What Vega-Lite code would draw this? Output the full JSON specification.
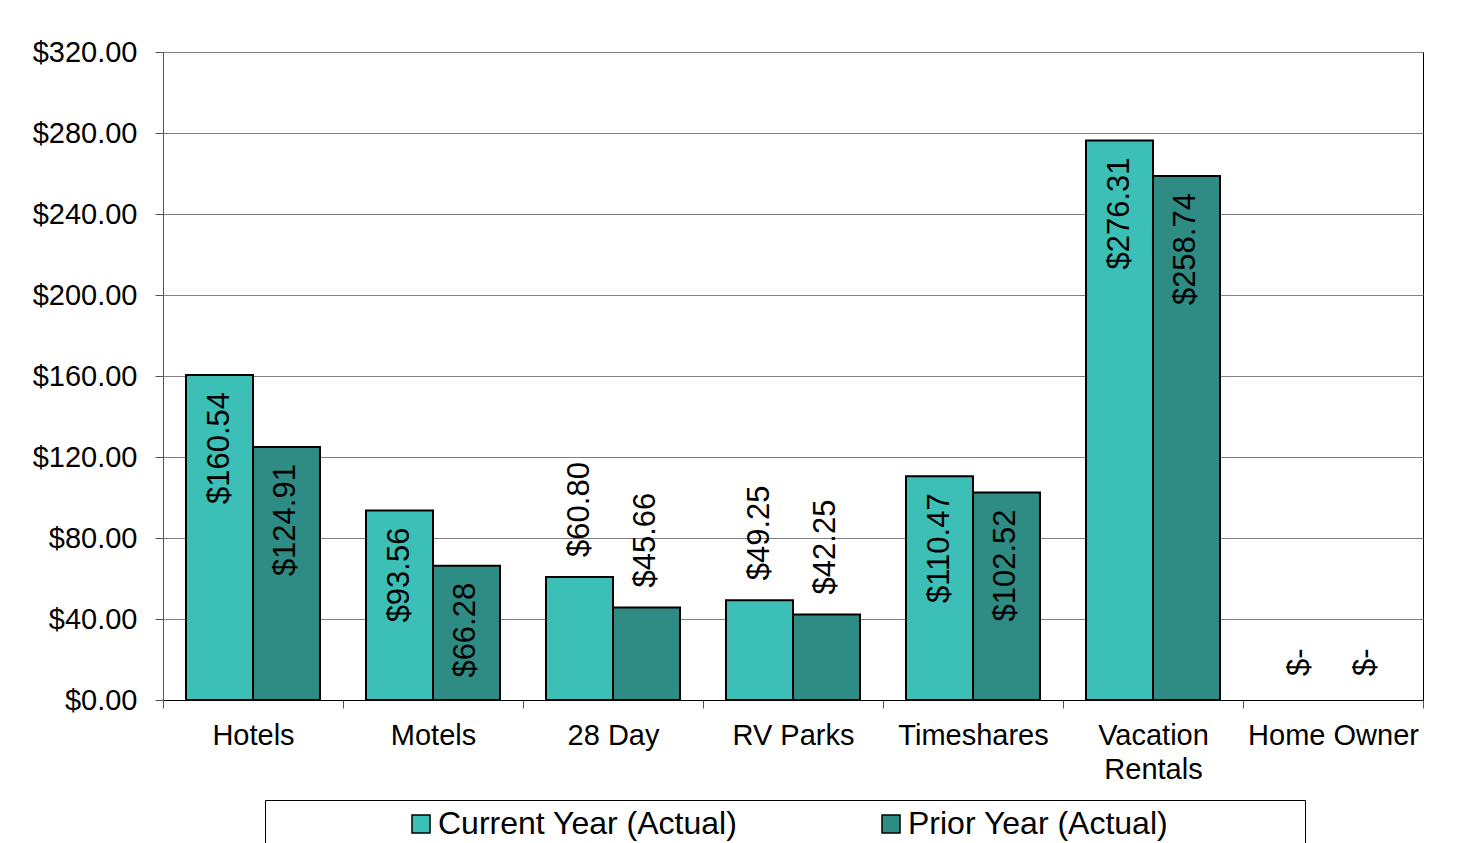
{
  "$schema": "https://vega.github.io/schema/vega-lite/v6.json",
  "width": 1260,
  "height": 648,
  "autosize": {"type": "none"},
  "padding": {"left": 163, "top": 52, "right": 35, "bottom": 143},
  "config": {
    "view": {"stroke": "#000", "strokeWidth": 1},
    "font": "Liberation Sans"
  },
  "data": {
    "values": [
      {"category": "Hotels", "series": "Current Year (Actual)", "value": 160.54},
      {"category": "Hotels", "series": "Prior Year (Actual)", "value": 124.91},
      {"category": "Motels", "series": "Current Year (Actual)", "value": 93.56},
      {"category": "Motels", "series": "Prior Year (Actual)", "value": 66.28},
      {"category": "28 Day", "series": "Current Year (Actual)", "value": 60.80},
      {"category": "28 Day", "series": "Prior Year (Actual)", "value": 45.66},
      {"category": "RV Parks", "series": "Current Year (Actual)", "value": 49.25},
      {"category": "RV Parks", "series": "Prior Year (Actual)", "value": 42.25},
      {"category": "Timeshares", "series": "Current Year (Actual)", "value": 110.47},
      {"category": "Timeshares", "series": "Prior Year (Actual)", "value": 102.52},
      {"category": "Vacation Rentals", "series": "Current Year (Actual)", "value": 276.31},
      {"category": "Vacation Rentals", "series": "Prior Year (Actual)", "value": 258.74},
      {"category": "Home Owner", "series": "Current Year (Actual)", "value": 0},
      {"category": "Home Owner", "series": "Prior Year (Actual)", "value": 0}
    ]
  },
  "encoding": {
    "x": {
      "field": "category",
      "type": "nominal",
      "sort": null,
      "scale": {"paddingInner": 0, "paddingOuter": 0},
      "axis": {
        "title": null,
        "labelAngle": 0,
        "tickBand": "extent",
        "tickSize": 8,
        "tickColor": "#555",
        "domainColor": "#000",
        "labelFontSize": 29,
        "labelColor": "#000",
        "labelPadding": 13,
        "labelLimit": 400,
        "labelLineHeight": 34,
        "labelExpr": "datum.label == 'Vacation Rentals' ? ['Vacation', 'Rentals'] : datum.label",
        "grid": false
      }
    },
    "xOffset": {
      "field": "series",
      "type": "nominal",
      "sort": null,
      "scale": {"paddingInner": 0, "paddingOuter": 0.3433}
    },
    "y": {
      "field": "value",
      "type": "quantitative",
      "scale": {"domain": [0, 320], "nice": false},
      "axis": {
        "title": null,
        "values": [0, 40, 80, 120, 160, 200, 240, 280, 320],
        "format": "$,.2f",
        "grid": true,
        "gridColor": "#808080",
        "gridWidth": 1,
        "domainColor": "#555",
        "tickColor": "#555",
        "tickSize": 8,
        "labelFontSize": 29,
        "labelColor": "#000",
        "labelPadding": 18
      }
    }
  },
  "layer": [
    {
      "transform": [{"filter": "datum.value > 0"}],
      "mark": {"type": "bar", "stroke": "#000", "strokeWidth": 2},
      "encoding": {
        "color": {
          "field": "series",
          "type": "nominal",
          "sort": null,
          "scale": {
            "domain": ["Current Year (Actual)", "Prior Year (Actual)"],
            "range": ["#3CBFB6", "#2E8C85"]
          },
          "legend": {
            "orient": "none",
            "legendX": 102,
            "legendY": 748,
            "direction": "horizontal",
            "title": " ",
            "titleOrient": "left",
            "titleFontSize": 1,
            "titlePadding": 132,
            "padding": 8,
            "strokeColor": "#000",
            "fillColor": "#fff",
            "symbolType": "square",
            "symbolSize": 324,
            "symbolStrokeColor": "#000",
            "symbolStrokeWidth": 1.5,
            "symbolOpacity": 1,
            "labelFontSize": 32,
            "labelColor": "#000",
            "labelOffset": 1,
            "labelLimit": 1000,
            "columnPadding": 137,
            "labelExpr": "datum.label == 'Prior Year (Actual)' ? datum.label + '\u2009\u2009\u2800\u2800\u2800\u2800\u2800' : datum.label"
          }
        }
      }
    },
    {
      "transform": [{"filter": "datum.value > 62"}],
      "mark": {"type": "text", "angle": 270, "align": "right", "baseline": "middle", "dx": -17, "fontSize": 31, "color": "#000"},
      "encoding": {"text": {"field": "value", "type": "quantitative", "format": "$,.2f"}}
    },
    {
      "transform": [{"filter": "datum.value > 0 && datum.value <= 62"}],
      "mark": {"type": "text", "angle": 270, "align": "left", "baseline": "middle", "dx": 20, "fontSize": 31, "color": "#000"},
      "encoding": {"text": {"field": "value", "type": "quantitative", "format": "$,.2f"}}
    },
    {
      "transform": [{"filter": "datum.value == 0"}],
      "mark": {"type": "text", "angle": 270, "align": "left", "baseline": "middle", "dx": 24, "fontSize": 31, "color": "#000"},
      "encoding": {"text": {"value": "$-"}}
    }
  ]
}
